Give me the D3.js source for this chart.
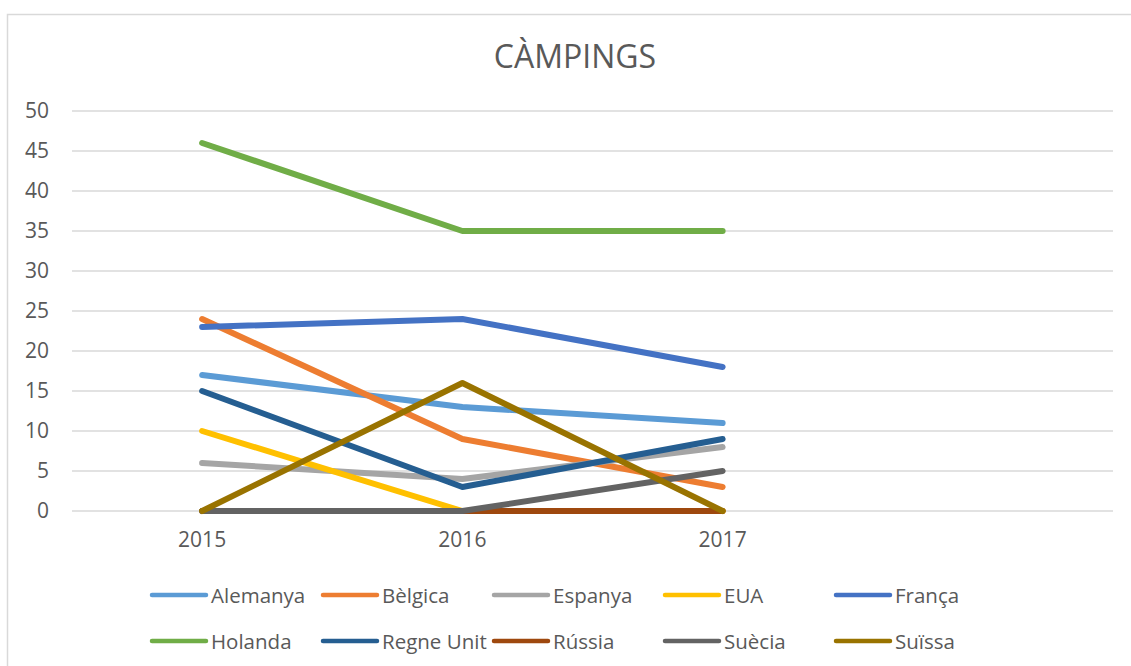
<!DOCTYPE html>
<html>
<head>
<meta charset="utf-8">
<script src="https://cdn.jsdelivr.net/npm/d3@7"></script>
<style>
  body { margin: 0; background: #fff; }
  svg { display: block; font-family: "Open Sans", "Noto Sans", sans-serif; }
</style>
</head>
<body>
<svg id="chart" width="1131" height="666"></svg>
<script>
// categories (the fourth slot is empty in the original workbook)
const years = ["2015", "2016", "2017", ""];
const yTicks = [0, 5, 10, 15, 20, 25, 30, 35, 40, 45, 50];

const countries = ["Alemanya", "Bèlgica", "Espanya", "EUA", "França",
                   "Holanda", "Regne Unit", "Rússia", "Suècia", "Suïssa"];
const colors = ["#5b9bd5", "#ed7d31", "#a5a5a5", "#ffc000", "#4472c4",
                "#70ad47", "#255e91", "#9e480e", "#636363", "#997300"];

const alemanya  = [17, 13, 11];
const belgica   = [24, 9, 3];
const espanya   = [6, 4, 8];
const eua       = [10, 0, 0];
const franca    = [23, 24, 18];
const holanda   = [46, 35, 35];
const regneUnit = [15, 3, 9];
const russia    = [0, 0, 0];
const suecia    = [0, 0, 5];
const suissa    = [0, 16, 0];

const values = [alemanya, belgica, espanya, eua, franca,
                holanda, regneUnit, russia, suecia, suissa];

const svg = d3.select("#chart");
const textColor = "#595959";

// outer chart frame
svg.append("rect")
  .attr("x", 7.5).attr("y", 14.5)
  .attr("width", 1140).attr("height", 700)
  .attr("fill", "#fff")
  .attr("stroke", "#d9d9d9")
  .attr("stroke-width", 1.5);

svg.append("text")
  .attr("x", 575).attr("y", 68)
  .attr("text-anchor", "middle")
  .attr("fill", textColor)
  .attr("font-size", "32px")
  .text("CÀMPINGS");

const x = d3.scaleBand().domain(years).range([72, 1113]);
const y = d3.scaleLinear().domain([0, 50]).range([511, 111]);

// gridlines
svg.append("g")
  .selectAll("line")
  .data(yTicks)
  .join("line")
  .attr("x1", 72).attr("x2", 1113)
  .attr("y1", d => y(d)).attr("y2", d => y(d))
  .attr("stroke", "#d9d9d9")
  .attr("stroke-width", 1.5);

// y axis labels
const yAxis = svg.append("g")
  .attr("transform", "translate(72,0)")
  .call(d3.axisLeft(y).tickValues(yTicks).tickSize(0).tickPadding(23));
yAxis.select(".domain").remove();
yAxis.selectAll("text")
  .attr("fill", textColor)
  .attr("font-size", "21px")
  .attr("font-family", "Open Sans, Noto Sans, sans-serif");

// x axis labels
const xAxis = svg.append("g")
  .attr("transform", "translate(0,511)")
  .call(d3.axisBottom(x).tickSize(0).tickPadding(21));
xAxis.select(".domain").remove();
xAxis.selectAll("text")
  .attr("fill", textColor)
  .attr("font-size", "21px")
  .attr("font-family", "Open Sans, Noto Sans, sans-serif");

// series lines
const line = d3.line()
  .x((d, i) => x(years[i]) + x.bandwidth() / 2)
  .y(d => y(d));

svg.append("g")
  .selectAll("path")
  .data(values)
  .join("path")
  .attr("d", line)
  .attr("fill", "none")
  .attr("stroke", (d, i) => colors[i])
  .attr("stroke-width", 6)
  .attr("stroke-linecap", "round")
  .attr("stroke-linejoin", "round");

// legend: 5 columns, 2 rows
const legend = svg.append("g")
  .selectAll("g")
  .data(countries)
  .join("g")
  .attr("transform", (d, i) => `translate(${152 + (i % 5) * 171},${595 + Math.floor(i / 5) * 46})`);

legend.append("line")
  .attr("x1", 0).attr("x2", 54)
  .attr("y1", 0).attr("y2", 0)
  .attr("stroke", (d, i) => colors[i])
  .attr("stroke-width", 4.5)
  .attr("stroke-linecap", "round");

legend.append("text")
  .attr("x", 59).attr("y", 8)
  .attr("fill", textColor)
  .attr("font-size", "20.5px")
  .text(d => d);
</script>
</body>
</html>
